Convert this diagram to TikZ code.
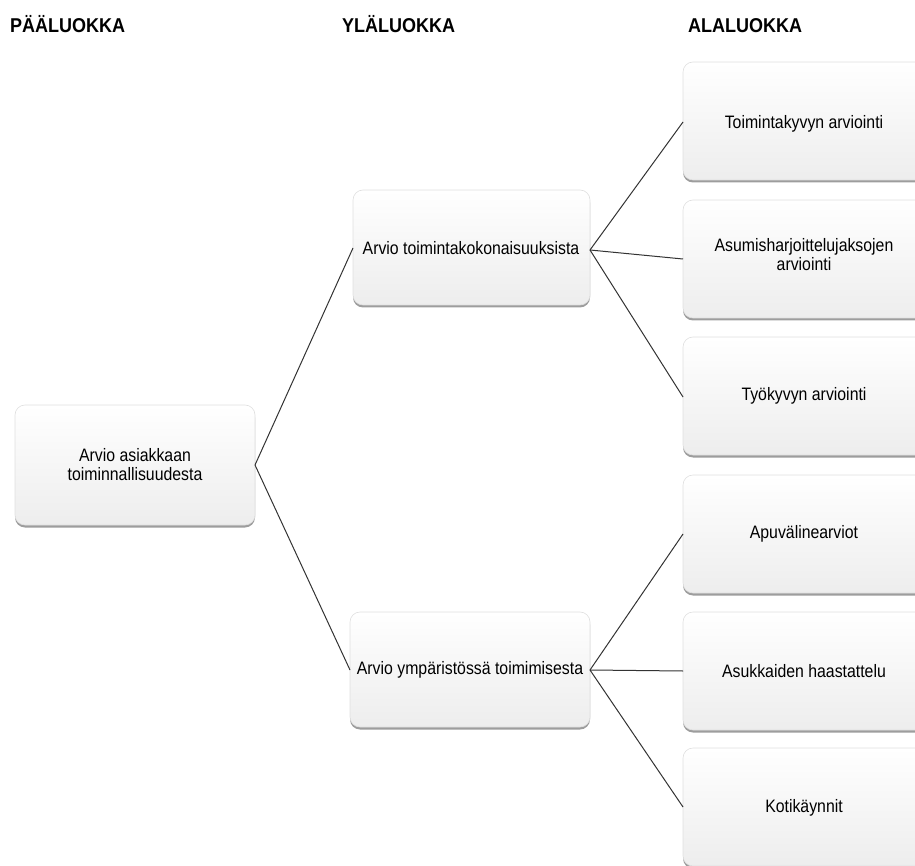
\documentclass[tikz,border=0pt]{standalone}
\usepackage{fontspec}
\setmainfont{Liberation Sans}
\newfontfamily\headfont[FakeStretch=0.9]{Liberation Sans}
\newfontfamily\boxfont[FakeStretch=0.88]{Liberation Sans}
\usetikzlibrary{shadows}
\begin{document}
\begin{tikzpicture}[x=1pt,y=-1pt,
  header/.style={anchor=base west,inner sep=0pt,font=\headfont\bfseries\fontsize{20}{22}\selectfont},
  card/.style={rounded corners=10pt,draw=gray!25,line width=0.6pt,
    top color=white,bottom color=gray!14,
    drop shadow={shadow xshift=0pt,shadow yshift=-2.5pt,opacity=0.55,fill=black!70}},
  lbl/.style={font=\boxfont\fontsize{18}{19}\selectfont,align=center,inner sep=0pt},
  link/.style={draw=black!80,line width=1pt}]
\useasboundingbox (0,0) rectangle (915,866);
\begin{scope}
\clip (0,0) rectangle (915,866);
% column headings
\node[header] (h1) at (10,33) {PÄÄLUOKKA};
\node[header] (h2) at (342,33) {YLÄLUOKKA};
\node[header] (h3) at (688,33) {ALALUOKKA};
% main class
\path[card] (15,405) rectangle (255,525);
\node[lbl] (main) at (135,465) {Arvio asiakkaan\\toiminnallisuudesta};
\coordinate (mainR) at (255,465);
% upper classes
\path[card] (353,190) rectangle (590,305);
\node[lbl] (u1) at (471,248) {Arvio toimintakokonaisuuksista};
\coordinate (u1L) at (353,248);
\coordinate (u1R) at (590,250);
\path[card] (350,612) rectangle (590,727);
\node[lbl] (u2) at (470,670) {Arvio ympäristössä toimimisesta};
\coordinate (u2L) at (350,670);
\coordinate (u2R) at (590,670);
% sub classes
\foreach \t/\n/\c in {62/s1/122,200/s2/259,337/s3/397,475/s4/534,612/s5/671,748/s6/807}{
  \path[card] (683,\t) rectangle (925,\t+118);
  \coordinate (\n L) at (683,\c);
}
\node[lbl] (s1) at (804,124) {Toimintakyvyn arviointi};
\node[lbl] (s2) at (804,255) {Asumisharjoittelujaksojen\\arviointi};
\node[lbl] (s3) at (804,396) {Työkyvyn arviointi};
\node[lbl] (s4) at (804,534) {Apuvälinearviot};
\node[lbl] (s5) at (804,671) {Asukkaiden haastattelu};
\node[lbl] (s6) at (804,808) {Kotikäynnit};
% connectors
\draw[link] (mainR) -- (u1L);
\draw[link] (mainR) -- (u2L);
\foreach \n in {s1,s2,s3}{\draw[link] (u1R) -- (\n L);}
\foreach \n in {s4,s5,s6}{\draw[link] (u2R) -- (\n L);}
\end{scope}
\end{tikzpicture}
\end{document}
